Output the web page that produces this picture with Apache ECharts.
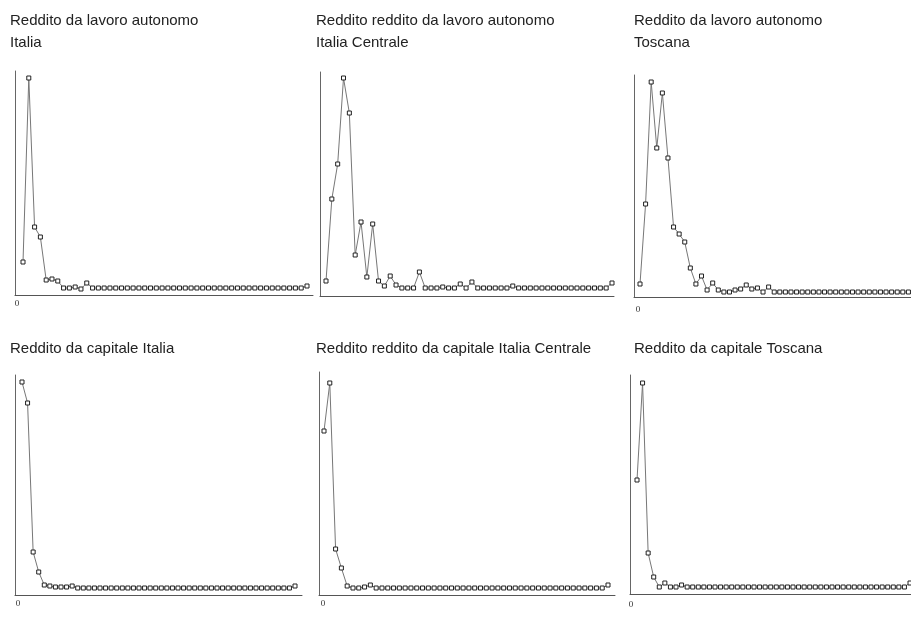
<!DOCTYPE html>
<html>
<head>
<meta charset="utf-8">
<style>html,body{margin:0;padding:0;background:#fff}#c{width:911px;height:623px}</style>
<script src="https://cdn.jsdelivr.net/npm/echarts@6/dist/echarts.min.js"></script>
</head>
<body>
<div id="c"></div>
<script>
// ---- data (relative heights) ----
const panelTitles = [
  "Reddito da lavoro autonomo\nItalia",
  "Reddito reddito da lavoro autonomo\nItalia Centrale",
  "Reddito da lavoro autonomo\nToscana",
  "Reddito da capitale Italia",
  "Reddito reddito da capitale Italia Centrale",
  "Reddito da capitale Toscana"
];
const xTickLabels = ["0"];
const lavoroItalia = [33,217,68,58,15,16,14,7,7,8,6,12,7,7,7,7,7,7,7,7,7,7,7,7,7,7,7,7,7,7,7,7,7,7,7,7,7,7,7,7,7,7,7,7,7,7,7,7,7,9];
const lavoroCentro = [15,97,132,218,183,41,74,19,72,15,10,20,11,8,8,8,24,8,8,8,9,8,8,12,8,14,8,8,8,8,8,8,10,8,8,8,8,8,8,8,8,8,8,8,8,8,8,8,8,13];
const lavoroToscana = [13,93,215,149,204,139,70,63,55,29,13,21,7,14,7,5,5,7,8,12,8,9,5,10,5,5,5,5,5,5,5,5,5,5,5,5,5,5,5,5,5,5,5,5,5,5,5,5,5,5];
const capitaleItalia = [213,192,43,23,10,9,8,8,8,9,7,7,7,7,7,7,7,7,7,7,7,7,7,7,7,7,7,7,7,7,7,7,7,7,7,7,7,7,7,7,7,7,7,7,7,7,7,7,7,9];
const capitaleCentro = [164,212,46,27,9,7,7,8,10,7,7,7,7,7,7,7,7,7,7,7,7,7,7,7,7,7,7,7,7,7,7,7,7,7,7,7,7,7,7,7,7,7,7,7,7,7,7,7,7,10];
const capitaleToscana = [114,211,41,17,7,11,7,7,9,7,7,7,7,7,7,7,7,7,7,7,7,7,7,7,7,7,7,7,7,7,7,7,7,7,7,7,7,7,7,7,7,7,7,7,7,7,7,7,7,11];
const seriesData = [lavoroItalia, lavoroCentro, lavoroToscana, capitaleItalia, capitaleCentro, capitaleToscana];

// ---- layout (pixels) ----
const layout = [
  {left:15,  top:71,  right:313, bottom:295, firstX:23,  lastX:307, labelX:17,  labelMargin:4, ymax:224, tLeft:10,  tTop:10},
  {left:320, top:72,  right:614, bottom:296, firstX:326, lastX:612, labelX:318, labelMargin:3, ymax:224, tLeft:316, tTop:10},
  {left:634, top:75,  right:911, bottom:297, firstX:640, lastX:914, labelX:638, labelMargin:8, ymax:222, tLeft:634, tTop:10},
  {left:15,  top:375, right:302, bottom:595, firstX:22,  lastX:295, labelX:18,  labelMargin:4, ymax:220, tLeft:10,  tTop:338},
  {left:319, top:372, right:615, bottom:595, firstX:324, lastX:608, labelX:323, labelMargin:4, ymax:223, tLeft:316, tTop:338},
  {left:630, top:375, right:911, bottom:594, firstX:637, lastX:910, labelX:631, labelMargin:6, ymax:219, tLeft:634, tTop:338}
];

const titleFont = "'Liberation Sans', Arial, sans-serif";
const grid = [], xAxis = [], yAxis = [], series = [], title = [];
layout.forEach((L, i) => {
  const n = seriesData[i].length;
  const s = (L.lastX - L.firstX) / (n - 1);
  const xmin = -(L.firstX - L.left) / s;
  const xmax = xmin + (L.right - L.left) / s;
  const labelVal = xmin + (L.labelX - L.left) / s;
  grid.push({left:L.left, top:L.top, width:L.right - L.left, height:L.bottom - L.top});
  xAxis.push({
    type:'value', gridIndex:i, min:xmin, max:xmax,
    axisLine:{show:true, onZero:false, lineStyle:{color:'#555', width:1}},
    axisTick:{show:false}, splitLine:{show:false},
    axisLabel:{customValues:[labelVal], formatter:() => xTickLabels[0], margin:L.labelMargin,
      fontFamily:"'Liberation Serif', 'Times New Roman', serif", fontSize:9, color:'#333'}
  });
  yAxis.push({
    type:'value', gridIndex:i, min:0, max:L.ymax,
    axisLine:{show:true, onZero:false, lineStyle:{color:'#666', width:1}},
    axisTick:{show:false}, axisLabel:{show:false}, splitLine:{show:false}
  });
  series.push({
    type:'line', xAxisIndex:i, yAxisIndex:i, clip:false,
    data: seriesData[i].map((v, k) => [k, v]),
    symbol:'rect', symbolSize:[4,4], showAllSymbol:true,
    lineStyle:{color:'#777', width:1},
    itemStyle:{color:'#fff', borderColor:'#222', borderWidth:1},
    silent:true
  });
  title.push({
    text: panelTitles[i], left:L.tLeft, top:L.tTop, padding:0,
    textStyle:{fontFamily:titleFont, fontSize:15, fontWeight:'normal', color:'#222', lineHeight:22}
  });
});

const chart = echarts.init(document.getElementById('c'), null, {renderer:'canvas'});
chart.setOption({animation:false, backgroundColor:'#fff', title, grid, xAxis, yAxis, series});
</script>
</body>
</html>
